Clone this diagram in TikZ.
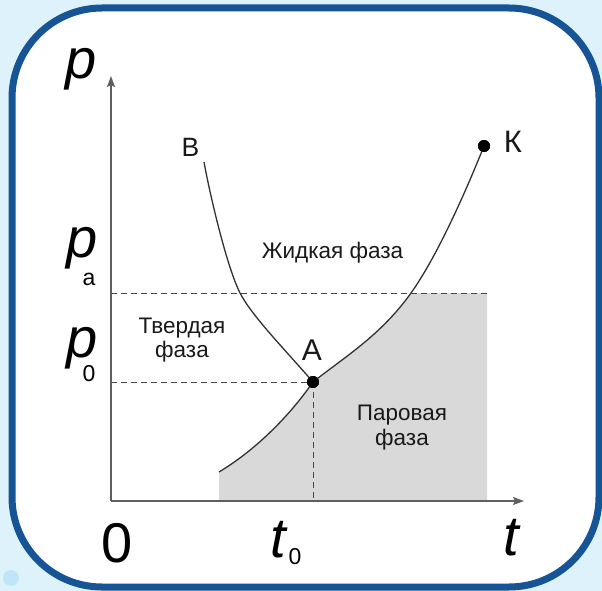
\documentclass[tikz,border=0pt]{standalone}
\usepackage{fontspec}
\setmainfont{Liberation Sans}
\usetikzlibrary{arrows.meta}
\definecolor{bgblue}{RGB}{221,242,250}
\definecolor{dotblue}{RGB}{190,230,247}
\definecolor{framec}{RGB}{22,84,150}
\definecolor{shadec}{RGB}{217,217,217}
\definecolor{axisc}{RGB}{95,95,95}
\definecolor{curvec}{RGB}{50,50,50}
\definecolor{dashc}{RGB}{70,70,70}
\definecolor{textc}{RGB}{25,25,25}
\tikzset{
  axisline/.style={draw=axisc, line width=1.4pt, -{Stealth[length=11pt,width=8pt,inset=2pt]}},
  curveline/.style={draw=curvec, line width=1.3pt},
  dashline/.style={draw=dashc, line width=1pt, dash pattern=on 6pt off 4pt},
  dotnode/.style={circle, fill=black, inner sep=0pt, minimum size=12pt},
  biglbl/.style={inner sep=0pt, text=black, font=\fontsize{56}{60}\selectfont},
  sublbl/.style={inner sep=0pt, text=black, font=\fontsize{23}{26}\selectfont},
  phaselbl/.style={inner sep=0pt, anchor=base, text=textc, font=\fontsize{22.5}{24}\selectfont},
  ptlbl/.style={inner sep=0pt, anchor=base, text=textc}
}
\begin{document}
\begin{tikzpicture}[x=1pt,y=-1pt]
\useasboundingbox (0,0) rectangle (602,591);
\fill[bgblue] (0,0) rectangle (602,591);
\fill[dotblue] (11,578) circle (8);
\draw[framec, line width=7pt, fill=white, rounded corners=90pt] (12,8) rectangle (599,587);

% key points
\coordinate (O) at (111,501);
\coordinate (ytip) at (111,76);
\coordinate (xtip) at (524,501);
\coordinate (S) at (219,472);
\coordinate (Sb) at (219,501);
\coordinate (V) at (411,293);
\coordinate (B) at (204,162);
\coordinate (M) at (240,293);
\coordinate (Pa) at (111,293);
\coordinate (Ra) at (487,293);
\coordinate (Rb) at (487,501);
\coordinate (P0) at (111,382);
\coordinate (T0) at (313,501);

% shaded vapour region
\fill[shadec] (S) .. controls (254,451) and (288,418) .. (313,382)
  .. controls (346,356) and (381,335) .. (V) -- (Ra) -- (Rb) -- (Sb) -- cycle;

% dashed guides
\node[dotnode] (A) at (313,382) {};
\node[dotnode] (K) at (484,146) {};
\draw[dashline] (Pa) -- (Ra);
\draw[dashline] (P0) -- (A.center);
\draw[dashline] (A.center) -- (T0);

% axes
\draw[axisline] (O) -- (ytip);
\draw[axisline] (O) -- (xtip);

% curves
\draw[curveline] (S) .. controls (254,451) and (288,418) .. (A.center);
\draw[curveline] (A.center) .. controls (346,356) and (381,335) .. (V)
  .. controls (436,258) and (464,196) .. (K.center);
\draw[curveline] (B) .. controls (209,190) and (226,265) .. (M)
  .. controls (252,316) and (283,347.5) .. (A.center);

\node[dotnode] at (A.center) {};
\node[dotnode] at (K.center) {};

% axis labels
\node[biglbl] (lp) at (81,69) {\itshape p};
\node[biglbl, anchor=base, text depth=0pt] (lpa) at (82,257.5) {\itshape p};
\node[sublbl] (lpasub) at (89,279) {a};
\node[biglbl, anchor=base, text depth=0pt] (lp0) at (82,357.5) {\itshape p};
\node[sublbl] (lp0sub) at (89,374) {0};
\node[biglbl] (l0) at (117,543) {0};
\node[biglbl] (lt0) at (278,540) {\itshape t};
\node[sublbl] (lt0sub) at (295,557) {0};
\node[biglbl] (lt) at (511,538) {\itshape t};

% point labels
\node[ptlbl, font=\fontsize{30}{32}\selectfont] (lA) at (312,360) {А};
\node[ptlbl, font=\fontsize{26.5}{30}\selectfont] (lB) at (190.5,157) {В};
\node[ptlbl, font=\fontsize{31}{34}\selectfont] (lK) at (513,152) {К};

% phase labels
\node[phaselbl] (liq) at (332.5,258) {Жидкая фаза};
\node[phaselbl] (sol1) at (182,333) {Твердая};
\node[phaselbl] (sol2) at (182,357) {фаза};
\node[phaselbl] (vap1) at (402,420) {Паровая};
\node[phaselbl] (vap2) at (402,445) {фаза};
\end{tikzpicture}
\end{document}
